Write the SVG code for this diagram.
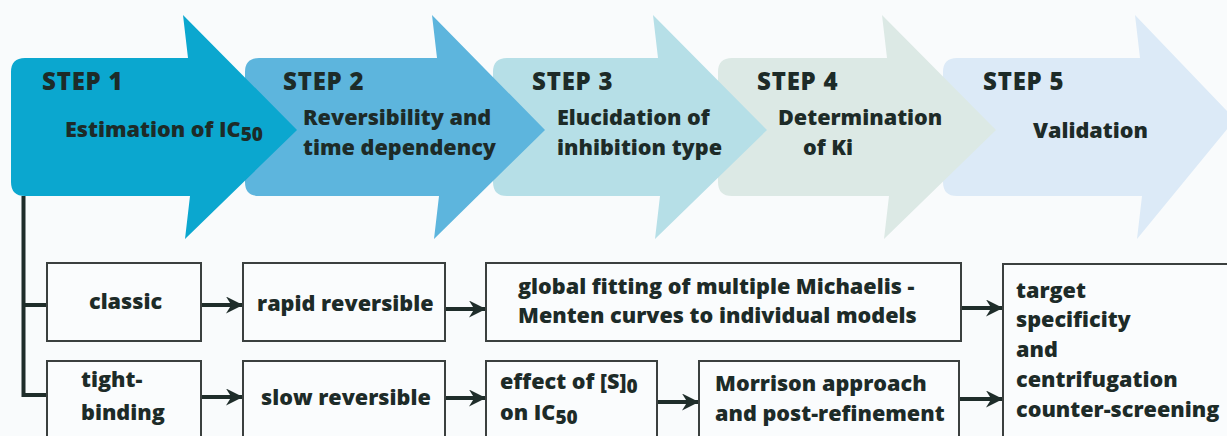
<svg xmlns="http://www.w3.org/2000/svg" width="1227" height="436" viewBox="0 0 1227 436">
<style>
  text { font-family: "Open Sans", "Liberation Sans", sans-serif; font-weight: 800; fill: #1d2b28; font-size: 21.6px; }
  .step { font-size: 24px; letter-spacing: 0.8px; }
  .sub { font-size: 19px; }
  .box { fill: #fafcfd; stroke: #3b403f; stroke-width: 2; }
  .conn { fill: none; stroke: #1f2d2a; stroke-width: 4; }
</style>
<defs>
  <marker id="ah" markerUnits="userSpaceOnUse" viewBox="0 0 16 16" refX="16" refY="8" markerWidth="17" markerHeight="17" orient="auto">
    <path d="M0,0 L16,8 L0,16 L5,8 Z" fill="#1f2d2a"/>
  </marker>
</defs>
<rect x="0" y="0" width="1227" height="436" fill="#f9fbfc"/>

<g id="step5">
  <path d="M957,58 L1140,58 L1135,15 L1228,112 L1228,128 L1137,239 L1142,196 L957,196 Q943,196 943,182 L943,72 Q943,58 957,58 Z" fill="#dceaf7"/>
  <text class="step" x="983" y="90">STEP 5</text>
  <text x="1033" y="138">Validation</text>
</g>
<g id="step4">
  <path d="M732,58 L887,58 L882,15 L996,130 L884,239 L889,196 L732,196 Q718,196 718,182 L718,72 Q718,58 732,58 Z" fill="#dce9e5"/>
  <text class="step" x="757" y="90">STEP 4</text>
  <text x="778" y="125">Determination</text>
  <text x="803" y="155">of Ki</text>
</g>
<g id="step3">
  <path d="M507,58 L658,58 L653,15 L767,130 L655,239 L660,196 L507,196 Q493,196 493,182 L493,72 Q493,58 507,58 Z" fill="#b6dfe7"/>
  <text class="step" x="532" y="90">STEP 3</text>
  <text x="557" y="125">Elucidation of</text>
  <text x="557" y="155">inhibition type</text>
</g>
<g id="step2">
  <path d="M259,58 L437,58 L432,15 L545,130 L434,239 L439,196 L259,196 Q245,196 245,182 L245,72 Q245,58 259,58 Z" fill="#5db5dd"/>
  <text class="step" x="283" y="90">STEP 2</text>
  <text x="303" y="125">Reversibility and</text>
  <text x="303" y="155">time dependency</text>
</g>
<g id="step1">
  <path d="M25,58 L188,58 L183,15 L297,130 L185,239 L190,196 L25,196 Q11,196 11,182 L11,72 Q11,58 25,58 Z" fill="#0ba7cf"/>
  <text class="step" x="42" y="90">STEP 1</text>
  <text x="65" y="137">Estimation of IC<tspan class="sub" dy="4">50</tspan></text>
</g>

<g id="connectors">
  <path class="conn" d="M23.5,196 V395 H47"/>
  <path class="conn" d="M23.5,305 H47"/>
  <path class="conn" d="M201,305 H243" marker-end="url(#ah)"/>
  <path class="conn" d="M445,309 H486" marker-end="url(#ah)"/>
  <path class="conn" d="M201,397 H243" marker-end="url(#ah)"/>
  <path class="conn" d="M445,398 H486" marker-end="url(#ah)"/>
  <path class="conn" d="M657,402 H699" marker-end="url(#ah)"/>
  <path class="conn" d="M961,308 H1003" marker-end="url(#ah)"/>
  <path class="conn" d="M959,399 H1003" marker-end="url(#ah)"/>
</g>

<g id="classic">
  <rect class="box" x="47" y="263" width="154" height="78"/>
  <text x="89" y="309">classic</text>
</g>
<g id="rapid">
  <rect class="box" x="243" y="263" width="202" height="78"/>
  <text x="257" y="311">rapid reversible</text>
</g>
<g id="global">
  <rect class="box" x="486" y="263" width="475" height="78"/>
  <text x="518" y="294">global fitting of multiple Michaelis -</text>
  <text x="518" y="323">Menten curves to individual models</text>
</g>
<g id="tight">
  <rect class="box" x="47" y="361" width="154" height="90"/>
  <text x="81" y="387">tight-</text>
  <text x="81" y="420">binding</text>
</g>
<g id="slow">
  <rect class="box" x="243" y="361" width="202" height="90"/>
  <text x="261" y="405">slow reversible</text>
</g>
<g id="effect">
  <rect class="box" x="486" y="361" width="171" height="90"/>
  <text x="500" y="389">effect of [S]<tspan class="sub" dy="4">0</tspan></text>
  <text x="500" y="420">on IC<tspan class="sub" dy="4">50</tspan></text>
</g>
<g id="morrison">
  <rect class="box" x="699" y="361" width="260" height="90"/>
  <text x="715" y="391">Morrison approach</text>
  <text x="715" y="421">and post-refinement</text>
</g>
<g id="target">
  <rect class="box" x="1003" y="264" width="240" height="190"/>
  <text x="1016" y="298">target</text>
  <text x="1016" y="327">specificity</text>
  <text x="1016" y="357">and</text>
  <text x="1016" y="387">centrifugation</text>
  <text x="1016" y="417">counter-screening</text>
</g>
</svg>
